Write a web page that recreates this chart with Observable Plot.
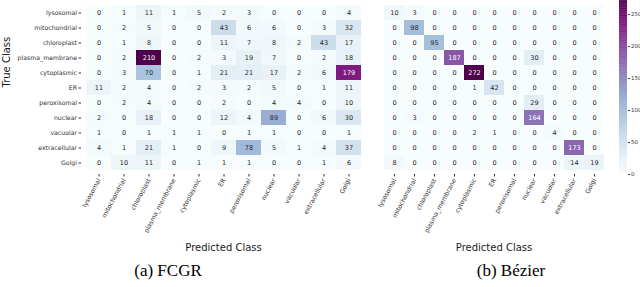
<!DOCTYPE html>
<html>
<head>
<meta charset="utf-8">
<script src="https://cdn.jsdelivr.net/npm/d3@7"></script>
<script src="https://cdn.jsdelivr.net/npm/@observablehq/plot@0.6"></script>
<style>
  html, body { margin: 0; padding: 0; background: #fff; }
  #wrap { position: relative; width: 640px; height: 287px; overflow: hidden; font-family: "DejaVu Sans", sans-serif; }
  #wrap svg { position: absolute; top: 0; overflow: visible; }
  .cap { position: absolute; font-family: "Liberation Serif", "Times New Roman", serif; font-size: 17px; color: #000; white-space: nowrap; transform: translateX(-50%); }
</style>
</head>
<body>
<div id="wrap"></div>
<script>
const classes = ["lysosomal", "mitochondrial", "chloroplast", "plasma_membrane", "cytoplasmic", "ER", "peroxisomal", "nuclear", "vacuolar", "extracellular", "Golgi"];

// FCGR confusion matrix (rows = true class, columns = predicted class)
const fcgr = [
  [0, 1, 11, 1, 5, 2, 3, 0, 0, 0, 4],
  [0, 2, 5, 0, 0, 43, 6, 6, 0, 3, 32],
  [0, 1, 8, 0, 0, 11, 7, 8, 2, 43, 17],
  [0, 2, 210, 0, 2, 3, 19, 7, 0, 2, 18],
  [0, 3, 70, 0, 1, 21, 21, 17, 2, 6, 179],
  [11, 2, 4, 0, 2, 3, 2, 5, 0, 1, 11],
  [0, 2, 4, 0, 0, 2, 0, 4, 4, 0, 10],
  [2, 0, 18, 0, 0, 12, 4, 89, 0, 6, 30],
  [1, 0, 1, 1, 1, 0, 1, 1, 0, 0, 1],
  [4, 1, 21, 1, 0, 9, 78, 5, 1, 4, 37],
  [0, 10, 11, 0, 1, 1, 1, 0, 0, 1, 6]
];

// Bézier confusion matrix
const bezier = [
  [10, 3, 0, 0, 0, 0, 0, 0, 0, 0, 0],
  [0, 98, 0, 0, 0, 0, 0, 0, 0, 0, 0],
  [0, 0, 95, 0, 0, 0, 0, 0, 0, 0, 0],
  [0, 0, 0, 187, 0, 0, 0, 30, 0, 0, 0],
  [0, 0, 0, 0, 272, 0, 0, 0, 0, 0, 0],
  [0, 0, 0, 0, 1, 42, 0, 0, 0, 0, 0],
  [0, 0, 0, 0, 0, 0, 0, 29, 0, 0, 0],
  [0, 3, 0, 0, 0, 0, 0, 164, 0, 0, 0],
  [0, 0, 0, 0, 2, 1, 0, 0, 4, 0, 0],
  [0, 0, 0, 0, 0, 0, 0, 0, 0, 173, 0],
  [8, 0, 0, 0, 0, 0, 0, 0, 0, 14, 19]
];

const colorbarTicks = [0, 50, 100, 150, 200, 250];
const captions = ["(a) FCGR", "(b) Bézier"];
const xTitle = "Predicted Class";
const yTitle = "True Class";

function toCells(m) {
  return classes.flatMap((t, i) => classes.map((p, j) => ({truth: t, pred: p, value: m[i][j]})));
}

function heatmap(m, opts) {
  const cells = toCells(m);
  const max = d3.max(m.flat());
  const marks = [
    Plot.cell(cells, {x: "pred", y: "truth", fill: "value", inset: 0}),
    Plot.text(cells, {x: "pred", y: "truth", text: "value", fontSize: 6.5,
      fill: d => d.value / max > 0.5 ? "#ffffff" : "#262626"}),
    Plot.axisX({anchor: "bottom", tickRotate: -62, tickSize: 2.5, tickPadding: 2, fontSize: 6.3, label: null, stroke: "#333", fill: "#333"}),
    Plot.text([xTitle], {frameAnchor: "bottom", dy: 73, fontSize: 10, fill: "#1a1a1a", lineAnchor: "middle"})
  ];
  if (opts.showY) {
    marks.push(Plot.axisY({anchor: "left", tickSize: 2.5, tickPadding: 2, fontSize: 6.2, label: null, stroke: "#333", fill: "#333"}));
    marks.push(Plot.text([yTitle], {frameAnchor: "left", dx: -75, rotate: -90, fontSize: 10, fill: "#1a1a1a", lineAnchor: "middle"}));
  }
  return Plot.plot({
    width: opts.width, height: 250,
    marginLeft: opts.ml, marginRight: opts.mr, marginTop: 0, marginBottom: 76,
    x: {domain: classes, padding: 0, axis: null},
    y: {domain: classes, padding: 0, axis: null},
    color: {type: "linear", scheme: "bupu", domain: [0, max]},
    style: {fontFamily: "DejaVu Sans", fontSize: "7px", background: "transparent", overflow: "visible", color: "#262626"},
    marks
  });
}

const wrap = document.getElementById("wrap");

const a = heatmap(fcgr, {width: 370, ml: 81, mr: 5, showY: true});
a.style.left = "0px";
wrap.appendChild(a);

const b = heatmap(bezier, {width: 245, ml: 12, mr: 10, showY: false});
b.style.left = "370px";
wrap.appendChild(b);

const bmax = d3.max(bezier.flat());
const ramp = d3.range(0, bmax, 1);
const cb = Plot.plot({
  width: 21, height: 250, marginLeft: 0, marginRight: 13, marginTop: 0, marginBottom: 76,
  y: {domain: [0, bmax], axis: null},
  color: {type: "linear", scheme: "bupu", domain: [0, bmax]},
  style: {fontFamily: "DejaVu Sans", fontSize: "5.5px", background: "transparent", overflow: "visible", color: "#333"},
  marks: [
    Plot.rect(ramp, {y1: d => d, y2: d => Math.min(d + 1.5, bmax), fill: d => d}),
    Plot.axisY(colorbarTicks, {anchor: "right", tickSize: 2, tickPadding: 1.5, fontSize: 5.5, label: null, stroke: "#333", fill: "#333"})
  ]
});
cb.style.left = "619px";
wrap.appendChild(cb);

const capX = [168, 511];
captions.forEach((c, i) => {
  const d = document.createElement("div");
  d.className = "cap";
  d.textContent = c;
  d.style.left = capX[i] + "px";
  d.style.top = "261px";
  wrap.appendChild(d);
});
</script>
</body>
</html>
